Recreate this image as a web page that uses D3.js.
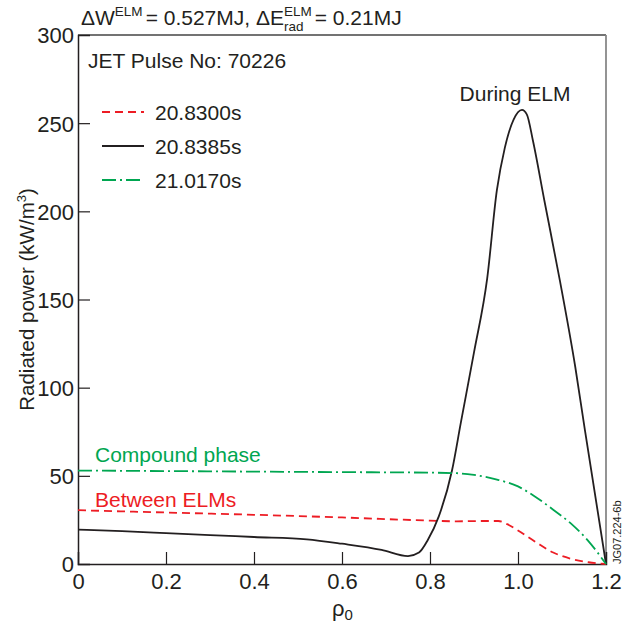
<!DOCTYPE html>
<html>
<head>
<meta charset="utf-8">
<script src="https://cdn.jsdelivr.net/npm/d3@7"></script>
<style>
  body { margin: 0; background: #fff; }
  text { font-family: "Liberation Sans", Arial, sans-serif; fill: #231f20; }
</style>
</head>
<body>
<div id="chart"></div>
<script>
// radiated power profiles, JET pulse 70226
const rhoDuring = [0, 0.1, 0.2, 0.3, 0.4, 0.52, 0.6, 0.69, 0.75, 0.775, 0.795, 0.82, 0.85, 0.87, 0.9, 0.93, 0.952, 0.97, 0.99, 1.009, 1.02, 1.034, 1.06, 1.095, 1.13, 1.152, 1.2];
const pDuring = [19.5, 18.6, 17.5, 16.4, 15.3, 14, 11.5, 8, 4.5, 6.5, 13.6, 27, 53, 80, 120, 162, 212, 236, 252, 257.5, 255, 240, 206, 161, 112, 76, 0];

const rhoBetween = [0, 0.2, 0.4, 0.6, 0.8, 0.86, 0.92, 0.955, 0.98, 1.0, 1.04, 1.08, 1.12, 1.16, 1.2];
const pBetween = [30.5, 29.2, 27.9, 26.4, 24.6, 24.2, 24.4, 24.4, 22, 19, 12.5, 6.5, 3, 1, 0];

const rhoCompound = [0, 0.2, 0.4, 0.6, 0.8, 0.86, 0.9, 0.95, 1.0, 1.04, 1.08, 1.12, 1.16, 1.2];
const pCompound = [53, 52.7, 52.4, 52.1, 51.8, 51.5, 50.5, 48, 44, 38, 30.8, 23, 13, 0];

const xTicks = [0, 0.2, 0.4, 0.6, 0.8, 1.0, 1.2];
const yTicks = [0, 50, 100, 150, 200, 250, 300];

const series = [
  {label: "20.8300s", x: rhoBetween, y: pBetween, color: "#ed1c24", dash: "8,5"},
  {label: "20.8385s", x: rhoDuring, y: pDuring, color: "#231f20", dash: null},
  {label: "21.0170s", x: rhoCompound, y: pCompound, color: "#00a651", dash: "14,4,2,4"}
];

const margin = {top: 35, right: 27, bottom: 59, left: 78};
const W = 633, H = 623;
const width = W - margin.left - margin.right;
const height = H - margin.top - margin.bottom;
const font = "Liberation Sans, Arial, sans-serif";

const svg = d3.select("#chart").append("svg")
  .attr("width", W).attr("height", H);
const g = svg.append("g").attr("transform", `translate(${margin.left},${margin.top})`);

const x = d3.scaleLinear().domain([0, 1.2]).range([0, width]);
const y = d3.scaleLinear().domain([0, 300]).range([height, 0]);

// frame: top and right
g.append("line").attr("x1", 0).attr("x2", width).attr("y1", 0).attr("y2", 0)
  .attr("stroke", "#444").attr("stroke-width", 1.3);
g.append("line").attr("x1", width).attr("x2", width).attr("y1", 0).attr("y2", height)
  .attr("stroke", "#888").attr("stroke-width", 1.8);

// axes, ticks pointing inward
const xAxis = g.append("g").attr("transform", `translate(0,${height})`)
  .call(d3.axisBottom(x).tickValues(xTicks).tickSize(-12).tickPadding(9)
    .tickFormat(d => d === 0 ? "0" : d3.format(".1f")(d)));
const yAxis = g.append("g")
  .call(d3.axisLeft(y).tickValues(yTicks).tickSize(-12).tickPadding(4));

[xAxis, yAxis].forEach(a => {
  a.select(".domain").attr("stroke", "#231f20").attr("stroke-width", 1.5);
  a.selectAll(".tick line").attr("stroke", "#231f20").attr("stroke-width", 1.2);
  a.selectAll(".tick text").style("font-family", font)
    .style("font-size", "22px").attr("fill", "#231f20");
});
yAxis.selectAll(".tick text").attr("dy", "0.36em");
xAxis.selectAll(".tick").filter(d => d === 0 || d === 1.2).select("line").remove();
yAxis.selectAll(".tick").filter(d => d === 0 || d === 300).select("line").remove();

// curves
const line = (xs, ys) => d3.line()
  .x((d, i) => x(xs[i])).y(d => y(d))
  .curve(d3.curveMonotoneX)(ys);

series.forEach(s => {
  g.append("path")
    .attr("d", line(s.x, s.y))
    .attr("fill", "none")
    .attr("stroke", s.color)
    .attr("stroke-width", 1.8)
    .attr("stroke-dasharray", s.dash);
});

// legend
g.append("text").attr("x", 10).attr("y", 33).style("font-size", "21px").text("JET Pulse No: 70226");
series.forEach((s, i) => {
  const ly = 77 + i * 34;
  g.append("line").attr("x1", 24).attr("x2", 66).attr("y1", ly).attr("y2", ly)
    .attr("stroke", s.color).attr("stroke-width", 1.8).attr("stroke-dasharray", s.dash);
  g.append("text").attr("x", 77).attr("y", ly + 8).style("font-size", "21px").text(s.label);
});

// annotations
g.append("text").attr("x", x(1.0) - 3).attr("y", 66).attr("text-anchor", "middle")
  .style("font-size", "21px").text("During ELM");
g.append("text").attr("x", 17).attr("y", 427).style("font-size", "21px")
  .style("fill", "#00a651").text("Compound phase");
g.append("text").attr("x", 17).attr("y", 472).style("font-size", "21px")
  .style("fill", "#ed1c24").text("Between ELMs");

// title, built piece by piece so the ELM/rad pair can stack
let tx = 81;
const ty = 25;
function piece(str, size, dy) {
  const t = svg.append("text").attr("x", tx).attr("y", ty + dy)
    .style("font-size", size + "px").text(str);
  return t.node().getComputedTextLength();
}
tx += piece("\u0394W", 21, 0);
tx += piece("ELM", 13.5, -9) + 3;
tx += piece("= 0.527MJ, \u0394E", 21, 0);
const wSup = piece("ELM", 13.5, -9);
const wSub = piece("rad", 13.5, 6);
tx += Math.max(wSup, wSub) + 3;
piece("= 0.21MJ", 21, 0);

// axis labels
svg.append("text")
  .attr("transform", `translate(34,${margin.top + y(150)}) rotate(-90)`)
  .attr("text-anchor", "middle").style("font-size", "20.5px")
  .html("Radiated power (kW/m<tspan dy='-8' style='font-size:13px'>3</tspan><tspan dy='8'>)</tspan>");

const xl = svg.append("text").attr("x", 332).attr("y", 616).style("font-size", "22px");
xl.append("tspan").text("\u03c1");
xl.append("tspan").attr("dy", 4).style("font-size", "15px").text("0");

svg.append("text")
  .attr("transform", `translate(621,${margin.top + height}) rotate(-90)`)
  .style("font-size", "11px").text("JG07.224-6b");
</script>
</body>
</html>
